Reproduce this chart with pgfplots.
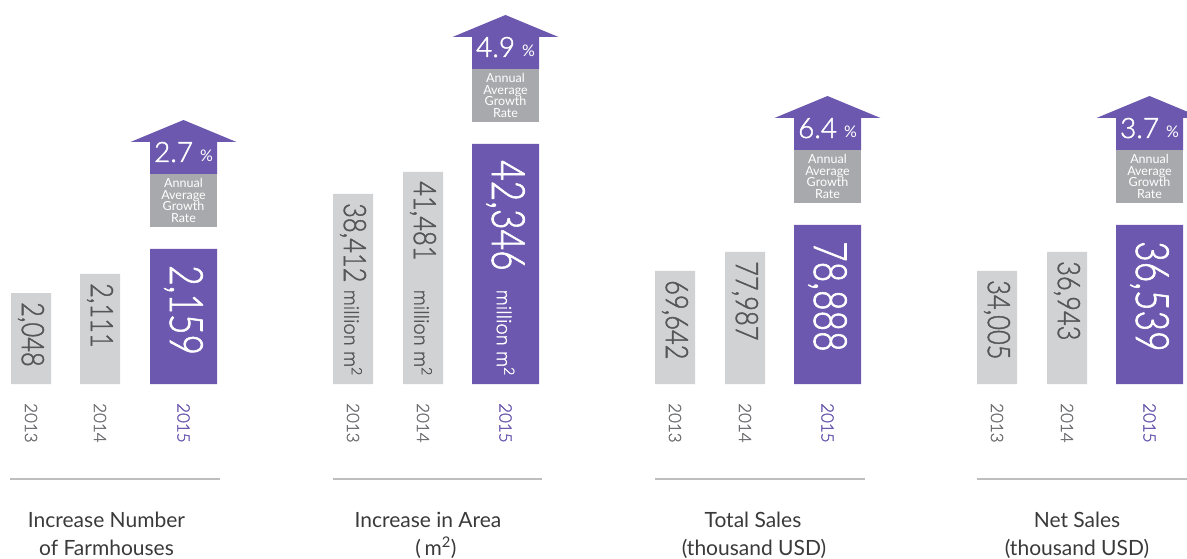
\documentclass[border=0pt]{standalone}
\usepackage{fontspec}
\setmainfont{Lato}
\newfontfamily\lightfont[FakeBold=1.6]{Lato Light}
\usepackage{pgfplots}
\pgfplotsset{compat=1.18}
\usepackage{pgfplotstable}
\definecolor{pur}{HTML}{6C59AF}
\definecolor{lgray}{HTML}{D1D2D4}
\definecolor{mgray}{HTML}{A7A9AC}
\definecolor{numgray}{HTML}{555658}
\definecolor{yeargray}{HTML}{6F7073}
\definecolor{linegray}{HTML}{BCBEC0}
\definecolor{titlegray}{HTML}{3A3A3A}

% x = bar centre, h = drawn bar height (picture units), lab = value shown
\pgfplotstableread{
x h lab
31 91 2,048
100 110 2,111
353 190 38,412
423 212 41,481
675 113 69,642
745 132 77,987
997 113 34,005
1067 132 36,943
}\graybars
\pgfplotstableread{
x h lab
183.5 135 2,159
505.5 240 42,346
827.5 159 78,888
1149.5 159 36,539
}\purbars
\pgfplotstableread{
x y lab
31 0 2013
100 0 2014
353 0 2013
423 0 2014
675 0 2013
745 0 2014
997 0 2013
1067 0 2014
}\grayyears
\pgfplotstableread{
x y lab
183.5 0 2015
505.5 0 2015
827.5 0 2015
1149.5 0 2015
}\puryears

\newcommand{\growtharrow}[3]{%
  \fill[mgray] (axis cs:{#1-33.5},{#2+22}) rectangle (axis cs:{#1+33.5},{#2+75});
  \fill[pur] (axis cs:{#1-33.5},{#2+75}) -- (axis cs:{#1+33.5},{#2+75}) -- (axis cs:{#1+33.5},{#2+107})
    -- (axis cs:{#1+53},{#2+107}) -- (axis cs:#1,{#2+129}) -- (axis cs:{#1-53},{#2+107})
    -- (axis cs:{#1-33.5},{#2+107}) -- cycle;
  \node[anchor=base, text=white, inner sep=0pt] at (axis cs:#1,{#2+87})
    {{\lightfont\fontsize{28}{28}\selectfont #3}\hspace{7pt}{\fontsize{16}{16}\selectfont\%}};
  \node[align=center, text=white, font=\fontsize{12.5}{11.7}\selectfont, inner sep=0pt]
    at (axis cs:#1,{#2+48.5}) {Annual\\Average\\Growth\\Rate};
}

\begin{document}
\begin{tikzpicture}
\useasboundingbox (0,0) rectangle (1187pt,558pt);
\clip (0,0) rectangle (1187pt,558pt);
\begin{axis}[
  x=1pt, y=1pt, xmin=0, xmax=1187, ymin=-174, ymax=384,
  hide axis, clip=false, anchor=south west, at={(0,0)},
]
% gray bars (2013, 2014)
\addplot[ybar, bar width=40, bar shift=0pt, fill=lgray, draw=none,
  point meta=explicit symbolic,
  nodes near coords={\scalebox{0.82}[1]{\pgfplotspointmeta}},
  nodes near coords style={rotate=-90, anchor=west, inner xsep=9pt, inner ysep=0pt,
    font=\lightfont\fontsize{31}{31}\selectfont, text=numgray}]
  table[x=x, y=h, meta=lab] {\graybars};
% purple bars (2015)
\addplot[ybar, bar width=67, bar shift=0pt, fill=pur, draw=none,
  point meta=explicit symbolic,
  nodes near coords={\scalebox{0.77}[1]{\pgfplotspointmeta}},
  nodes near coords style={rotate=-90, anchor=west, inner xsep=16pt, inner ysep=0pt,
    font=\lightfont\fontsize{46}{46}\selectfont, text=white}]
  table[x=x, y=h, meta=lab] {\purbars};
% year labels
\addplot[draw=none, mark=none, point meta=explicit symbolic, nodes near coords,
  nodes near coords style={rotate=-90, anchor=west, inner xsep=19pt, inner ysep=0pt,
    font=\lightfont\fontsize{17}{17}\selectfont, text=yeargray}]
  table[x=x, y=y, meta=lab] {\grayyears};
\addplot[draw=none, mark=none, point meta=explicit symbolic, nodes near coords,
  nodes near coords style={rotate=-90, anchor=west, inner xsep=19pt, inner ysep=0pt,
    font=\lightfont\fontsize{17}{17}\selectfont, text=pur}]
  table[x=x, y=y, meta=lab] {\puryears};
% unit labels inside the area bars
\addplot[draw=none, mark=none, nodes near coords={million m\textsuperscript{2}},
  nodes near coords style={rotate=-90, anchor=east, inner xsep=8pt, inner ysep=0pt,
    font=\lightfont\fontsize{20}{20}\selectfont, text=numgray}]
  coordinates {(353,0) (423,0)};
\addplot[draw=none, mark=none, nodes near coords={million m\textsuperscript{2}},
  nodes near coords style={rotate=-90, anchor=east, inner xsep=8pt, inner ysep=0pt,
    font=\lightfont\fontsize{20}{20}\selectfont, text=white}]
  coordinates {(505.5,0)};

\growtharrow{183.5}{135}{2.7}
\growtharrow{505.5}{240}{4.9}
\growtharrow{827.5}{159}{6.4}
\growtharrow{1149.5}{159}{3.7}

\draw[linegray, line width=1.5pt] (axis cs:10,-95) -- (axis cs:220,-95);
\draw[linegray, line width=1.5pt] (axis cs:333,-95) -- (axis cs:542,-95);
\draw[linegray, line width=1.5pt] (axis cs:655,-95) -- (axis cs:865,-95);
\draw[linegray, line width=1.5pt] (axis cs:977,-95) -- (axis cs:1187,-95);

\tikzset{ttl/.style={anchor=base, inner sep=0pt, text=titlegray, font=\fontsize{21}{21}\selectfont}}
\node[ttl] at (axis cs:106.5,-143) {Increase Number};
\node[ttl] at (axis cs:106.5,-171) {of Farmhouses};
\node[ttl] at (axis cs:428,-143) {Increase in Area};
\node[ttl] at (axis cs:436,-171) {(\,m\textsuperscript{2})};
\node[ttl] at (axis cs:753,-143) {Total Sales};
\node[ttl] at (axis cs:754,-171) {(thousand USD)};
\node[ttl] at (axis cs:1077,-143) {Net Sales};
\node[ttl] at (axis cs:1077,-171) {(thousand USD)};
\end{axis}
\end{tikzpicture}
\end{document}
